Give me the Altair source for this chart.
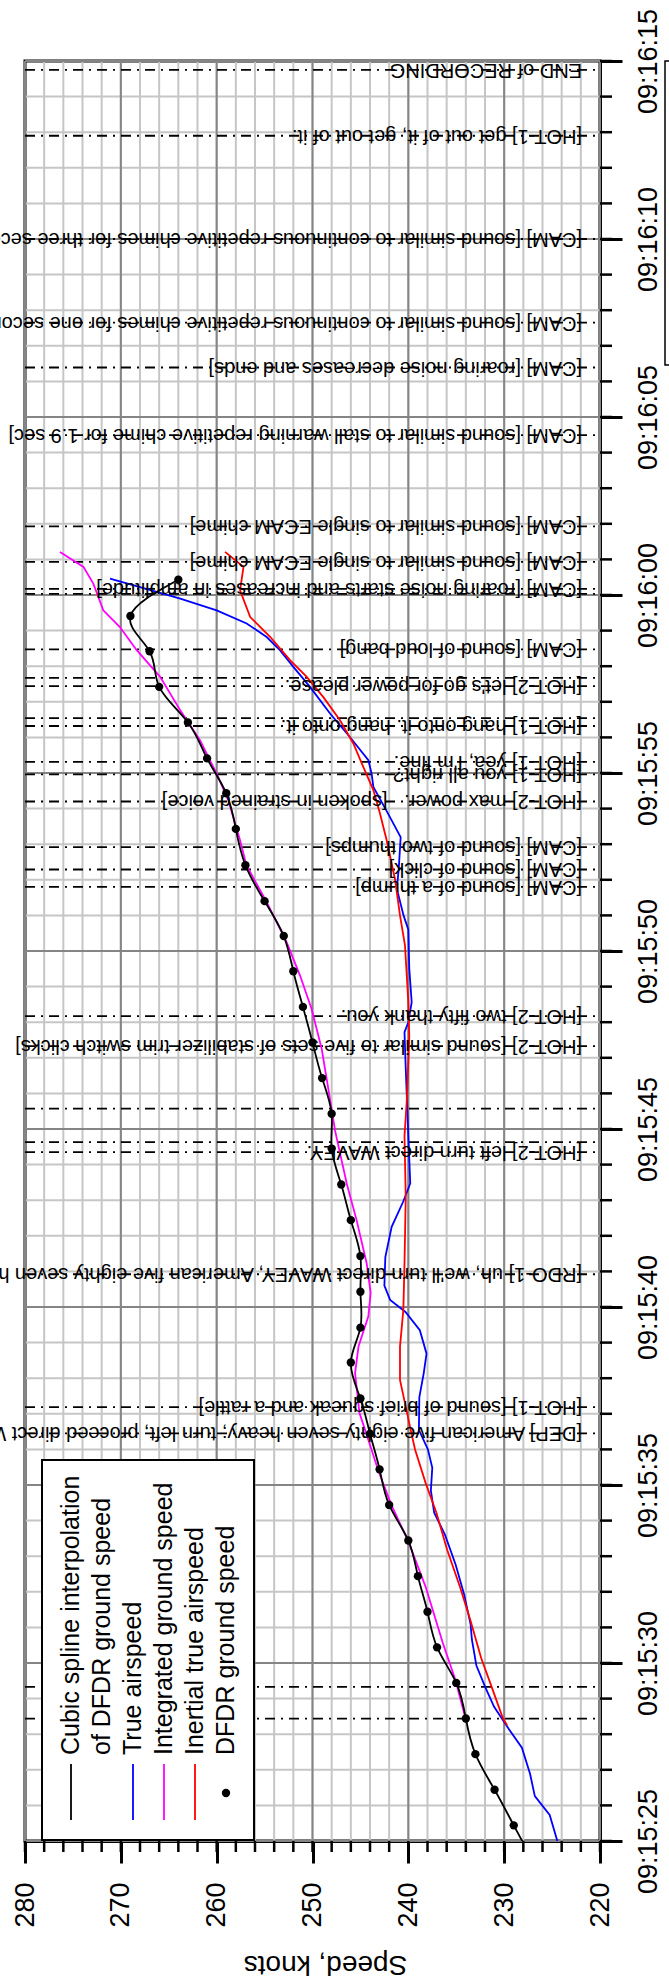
import altair as alt
import pandas as pd

FONT = "Liberation Sans"
W, H = 575, 1780

# ---------------- data (time = seconds after 09:15:00, speed in knots) ----------------
dfdr_t = [24.44, 25.44, 26.44, 27.44, 28.44, 29.44, 30.44, 31.44, 32.44, 33.44, 34.44, 35.44,
          36.44, 37.43, 38.44, 39.42, 40.43, 41.43, 42.44, 43.44, 44.45, 45.43, 46.43, 47.43,
          48.43, 49.43, 50.42, 51.40, 52.41, 53.43, 54.43, 55.41, 56.42, 57.42, 58.42, 59.41, 60.43]
dfdr_v = [227, 229, 231, 233, 234, 235, 237, 238, 239, 240, 242, 243,
          244, 245, 246, 245, 245, 245, 246, 247, 248, 248, 249, 250,
          251, 252, 253, 255, 257, 258, 259, 261, 263, 266, 267, 269, 264]

tas_t = [25.0, 25.73, 26.26, 26.89, 27.62, 28.14, 28.77, 29.3, 29.93, 30.66, 31.08, 31.92,
         32.76, 33.6, 34.22, 34.85, 35.48, 36.0, 36.55, 37.47, 38.13, 38.69, 39.35, 39.86,
         40.2, 40.6, 41.4, 42.25, 42.97, 43.47, 44.8, 46.7, 47.72, 48.0, 48.56, 49.5,
         50.6, 51.0, 51.75, 52.31, 53.2, 53.95, 54.61, 54.98, 55.36, 56.01, 56.67, 57.42,
         57.98, 58.45, 58.82, 59.2, 59.57, 59.9, 60.22, 60.46]
tas_v = [224.45, 225.25, 226.8, 227.3, 228.15, 229.5, 231.05, 231.94, 232.9, 233.37, 233.5, 234.17,
         235.06, 236.17, 237.3, 237.65, 237.5, 237.96, 238.9, 238.85, 238.4, 238.1, 238.8, 240.3,
         241.9, 242.5, 242.4, 241.74, 240.52, 239.8, 240.0, 240.27, 240.4, 240.0, 239.65, 239.9,
         240.0, 240.5, 241.2, 241.0, 240.8, 242.3, 243.65, 243.83, 244.17, 246.1, 248.17, 250.26,
         252.0, 253.4, 254.78, 256.87, 260.0, 263.8, 268.0, 271.13]

itas_t = [28.25, 28.46, 29.3, 30.14, 31.18, 32.13, 33.18, 34.22, 35.06, 36.0, 36.54, 37.3,
          37.95, 38.89, 39.92, 41.23, 43.1, 44.8, 45.75, 47.6, 48.56, 50.16, 51.0, 52.03,
          53.11, 53.86, 54.52, 55.17, 55.83, 56.48, 57.13, 57.7, 58.17, 58.82, 59.38, 60.13,
          60.79, 61.21]
itas_v = [229.7, 230.15, 231.27, 232.4, 233.5, 234.6, 235.95, 237.07, 238.2, 239.3, 239.75, 240.35,
          240.87, 240.87, 240.52, 240.4, 240.27, 240.4, 240.17, 239.9, 240.0, 240.35, 240.87, 241.4,
          242.26, 242.96, 243.65, 244.7, 245.74, 247.13, 248.87, 250.6, 252.35, 254.4, 256.5, 257.56,
          257.2, 259.13]

igs_t = [28.3, 29.5, 30.56, 32.13, 33.39, 34.43, 35.38, 36.54, 37.02, 38.14, 38.89, 39.74,
         40.4, 41.23, 42.44, 43.47, 44.96, 46.13, 47.25, 48.38, 49.31, 50.25, 51.37, 52.41,
         53.11, 54.23, 54.98, 55.92, 56.76, 57.7, 58.45, 59.1, 59.57, 60.32, 60.79, 61.21]
igs_v = [233.9, 235.06, 236.4, 238.18, 239.96, 241.75, 243.1, 244.5, 245.1, 245.56, 245.2, 244.17,
         243.93, 244.35, 245.4, 246.43, 247.65, 248.35, 249.04, 250.1, 251.3, 252.7, 254.78, 256.9,
         257.56, 258.78, 260.0, 261.74, 263.8, 265.9, 268.34, 270.1, 271.83, 272.87, 273.9, 276.35]

ann_t = [74.75, 72.9, 70.0, 67.65, 66.39, 64.49, 61.93, 60.93, 60.17, 60.03, 58.47, 57.67,
         57.44, 56.54, 56.32, 55.31, 54.96, 54.2, 52.92, 52.29, 51.8, 48.17, 47.33, 45.57,
         44.63, 44.35, 40.92, 37.19, 36.45, 29.33, 28.44]
ann_label = [
    "END of RECORDING",
    "[HOT-1] get out of it, get out of it.",
    "[CAM] [sound similar to continuous repetitive chimes for three seconds]",
    "[CAM] [sound similar to continuous repetitive chimes for one second]",
    "[CAM] [roaring noise decreases and ends]",
    "[CAM] [sound similar to stall warning repetitive chime for 1.9 sec]",
    "[CAM] [sound similar to single ECAM chime]",
    "[CAM] [sound similar to single ECAM chime]",
    "[CAM] [roaring noise starts and increases in amplitude]",
    "",
    "[CAM] [sound of loud bang]",
    "",
    "[HOT-2] let's go for power please.",
    "",
    "[HOT-1] hang onto it. hang onto it.",
    "[HOT-1] yea, I'm fine.",
    "[HOT-1] you all right?",
    "[HOT-2] max power.\u00a0\u00a0\u00a0[spoken in strained voice]",
    "[CAM] [sound of two thumps]",
    "[CAM] [sound of click]",
    "[CAM] [sound of a thump]",
    "[HOT-2] two fifty thank you.",
    "[HOT-2] [sound similar to five sets of stabilizer trim switch clicks]",
    "",
    "",
    "[HOT-2] left turn direct WAVEY.",
    "[RDO-1] uh, we'll turn direct WAVEY, American five eighty seven heavy.",
    "[HOT-1] [sound of brief squeak and a rattle]",
    "[DEP] American five eighty seven heavy; turn left, proceed direct WAVEY, climb and maintain one three thousand.",
    "",
    "",
]

legend_labels = ["Cubic spline interpolation", "of DFDR ground speed", "True airspeed",
                 "Integrated ground speed", "Inertial true airspeed", "DFDR ground speed"]

time_minor = list(range(25, 76))
time_major = list(range(25, 76, 5))
speed_minor = list(range(220, 281, 2))
speed_major = list(range(220, 281, 10))

# ---------------- frames ----------------
df_dfdr = pd.DataFrame({"t": dfdr_t, "v": dfdr_v})
df_tas = pd.DataFrame({"t": tas_t, "v": tas_v})
df_itas = pd.DataFrame({"t": itas_t, "v": itas_v})
df_igs = pd.DataFrame({"t": igs_t, "v": igs_v})
df_ann = pd.DataFrame({"t": ann_t, "label": ann_label})
df_ann_txt = df_ann[df_ann["label"] != ""]
df_tmin = pd.DataFrame({"t": time_minor})
df_tmaj = pd.DataFrame({"t": time_major})
df_smin = pd.DataFrame({"v": speed_minor})
df_smaj = pd.DataFrame({"v": speed_major})
df_leg = pd.DataFrame({"label": legend_labels, "i": list(range(len(legend_labels)))})
one = pd.DataFrame({"k": [0]})

xs = alt.Scale(domain=[220, 280], reverse=True, nice=False, zero=False)
ys = alt.Scale(domain=[25, 75], nice=False, zero=False)

label_expr = ("datum.value < 60 ? '09:15:' + format(datum.value, '02d') : "
              "'09:16:' + format(datum.value - 60, '02d')")

y_axis = alt.Axis(orient="right", values=time_major, tickSize=22, tickWidth=3, tickColor="black",
                  domainWidth=3, domainColor="black", labelAngle=270, labelAlign="center",
                  labelBaseline="top", labelPadding=13, labelFontSize=27, labelFont=FONT,
                  labelColor="black", labelExpr=label_expr, labelOverlap=False, title=None, grid=False)
x_axis = alt.Axis(orient="bottom", values=speed_major, tickSize=22, tickWidth=3, tickColor="black",
                  domainWidth=3, domainColor="black", labelAngle=270, labelAlign="right",
                  labelBaseline="middle", labelPadding=19, labelFontSize=27, labelFont=FONT,
                  labelColor="black", labelFlush=False, labelOverlap=False, grid=False,
                  title="Speed, knots", titleAngle=180, titleFontSize=28, titleFont=FONT,
                  titleFontWeight="normal", titleColor="black", titleX=300, titleY=122,
                  titleBaseline="middle", titleAlign="center")

X = alt.X("v:Q", scale=xs, axis=x_axis)
Y = alt.Y("t:Q", scale=ys, axis=y_axis)

# ---------------- grid ----------------
grid_h_minor = alt.Chart(df_tmin).mark_rule(color="#c6c6c6", strokeWidth=2).encode(
    y=Y, x=alt.value(0), x2=alt.value(W))
grid_v_minor = alt.Chart(df_smin).mark_rule(color="#c6c6c6", strokeWidth=2).encode(
    x=X, y=alt.value(0), y2=alt.value(H))
grid_h_major = alt.Chart(df_tmaj).mark_rule(color="#858585", strokeWidth=2).encode(
    y=Y, x=alt.value(0), x2=alt.value(W))
grid_v_major = alt.Chart(df_smaj).mark_rule(color="#858585", strokeWidth=2).encode(
    x=X, y=alt.value(0), y2=alt.value(H))

# minor ticks
tick_t = alt.Chart(df_tmin).mark_rule(color="black", strokeWidth=2.5).encode(
    y=Y, x=alt.value(W), x2=alt.value(W + 12))
tick_s = alt.Chart(df_smin).mark_rule(color="black", strokeWidth=2.5).encode(
    x=X, y=alt.value(H), y2=alt.value(H + 11))

# ---------------- annotations ----------------
ann_lines = alt.Chart(df_ann).mark_rule(color="black", strokeWidth=1.8, strokeDash=[10, 6, 2, 6]).encode(
    y=Y, x=alt.value(0), x2=alt.value(W))
ann_text = alt.Chart(df_ann_txt).mark_text(angle=180, align="left", baseline="middle", fontSize=20,
                                           font=FONT, color="black").encode(
    y=Y, x=alt.value(557), text="label:N")

# ---------------- curves ----------------
def curve(df, color, **kw):
    return alt.Chart(df).mark_line(color=color, strokeWidth=1.8, clip=True, **kw).encode(
        x=X, y=Y, order=alt.Order("t:Q"))

line_tas = curve(df_tas, "#0000ff")
line_itas = curve(df_itas, "#ff0000")
line_igs = curve(df_igs, "#ff00ff")
line_spline = curve(df_dfdr, "black", interpolate="natural")
dots = alt.Chart(df_dfdr[df_dfdr["t"] >= 25]).mark_circle(size=70, color="black", opacity=1).encode(
    x=X, y=Y)

# ---------------- legend ----------------
LX0, LX1, LY0, LY1 = 17, 229, 1399, 1779
COL0, COLW, TXT_Y = 46, 31, 1694
leg_box = alt.Chart(one).mark_rect(fill="white", stroke="black", strokeWidth=2).encode(
    x=alt.value(LX0), x2=alt.value(LX1), y=alt.value(LY0), y2=alt.value(LY1))
leg_text = alt.Chart(df_leg).transform_calculate(px=f"{COL0} + {COLW} * datum.i").mark_text(
    angle=270, align="left", baseline="middle", fontSize=25, font=FONT, color="black").encode(
    x=alt.X("px:Q", scale=None), y=alt.value(TXT_Y), text="label:N")
leg_syms = []
for i, col in [(0, "black"), (2, "#0000ff"), (3, "#ff00ff"), (4, "#ff0000")]:
    leg_syms.append(alt.Chart(one).mark_rule(color=col, strokeWidth=1.8).encode(
        x=alt.value(COL0 + COLW * i), y=alt.value(1703), y2=alt.value(1759)))
leg_dot = alt.Chart(one).mark_circle(size=70, color="black", opacity=1).encode(
    x=alt.value(COL0 + COLW * 5), y=alt.value(1732))

# outline box at top right (partly outside the page)
side_box = alt.Chart(one).mark_rect(fill=None, stroke="black", strokeWidth=1.5).encode(
    x=alt.value(640), x2=alt.value(720), y=alt.value(0), y2=alt.value(304))

chart = alt.layer(
    grid_h_minor, grid_v_minor, grid_h_major, grid_v_major, tick_t, tick_s,
    ann_lines, line_tas, line_itas, line_igs, line_spline, dots, ann_text,
    leg_box, leg_text, *leg_syms, leg_dot, side_box
).properties(
    width=W, height=H,
    padding={"left": 25, "top": 61, "right": 69, "bottom": 145},
    autosize=alt.AutoSizeParams(type="none"),
    background="white",
).configure_view(stroke="black", strokeWidth=3)

chart.save("out.html", embed_options={"renderer": "svg", "actions": False})
